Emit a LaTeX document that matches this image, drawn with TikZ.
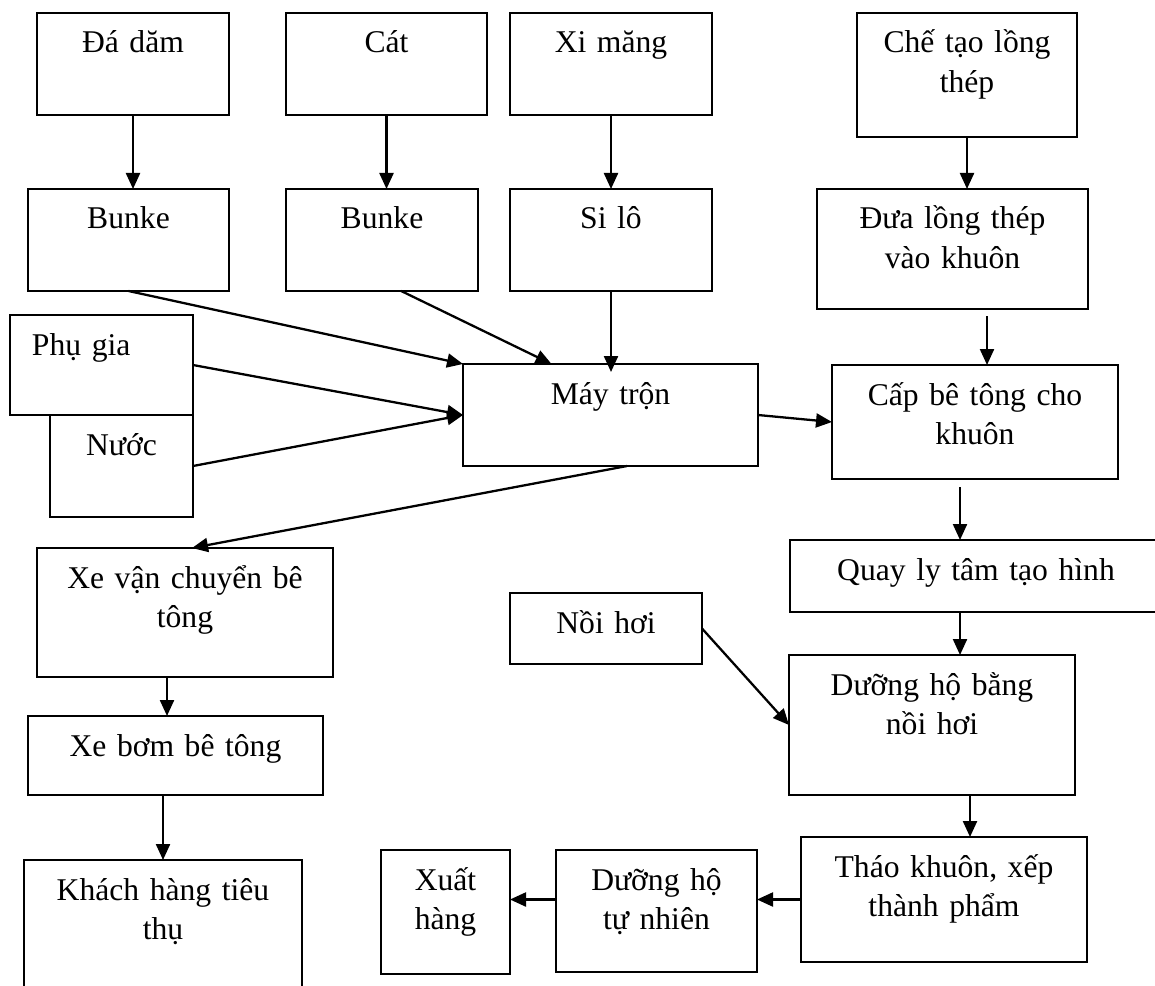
\documentclass[tikz,border=0pt]{standalone}
\usepackage{fontspec}
\setmainfont{Liberation Serif}
\usetikzlibrary{arrows.meta, calc}
\tikzset{
    hop/.style = {draw, line width = 1.05pt, anchor = north west, inner sep = 0pt, outer sep = 0pt, align = center, text height = 0.8cm, font = \fontsize{18}{22.2}\selectfont},
    muiten/.style = {-{Triangle[length = 0.32cm, width = 0.28cm]}, line width = 1.3pt}
}
\begin{document}
\begin{tikzpicture}[x = 0.2mm, y = -0.2mm]
            \useasboundingbox (0,0) rectangle (1155,986);
            \node[hop, text width = 3.84cm, text depth = 1.24cm] (dadam) at (37,13) {Đá dăm};
            \node[hop, text width = 4.02cm, text depth = 1.24cm] (cat) at (286,13) {Cát};
            \node[hop, text width = 4.04cm, text depth = 1.24cm] (ximang) at (510,13) {Xi măng};
            \node[hop, text width = 4.40cm, text depth = 1.68cm] (chetao) at (857,13) {Chế tạo lồng\\thép};
            \node[hop, text width = 4.02cm, text depth = 1.24cm] (bunke1) at (28,189) {Bunke};
            \node[hop, text width = 3.84cm, text depth = 1.24cm] (bunke2) at (286,189) {Bunke};
            \node[hop, text width = 4.04cm, text depth = 1.24cm] (silo) at (510,189) {Si lô};
            \node[hop, text width = 5.42cm, text depth = 1.60cm] (dualong) at (817,189) {Đưa lồng thép\\vào khuôn};
            \node[hop, text width = 3.66cm, text depth = 1.20cm, align = left] (phugia) at (10,315) {\hspace*{0.44cm}Phụ gia};
            \node[hop, text width = 2.86cm, text depth = 1.24cm] (nuoc) at (50,415) {Nước};
            \node[hop, text width = 5.90cm, text depth = 1.24cm] (maytron) at (463,364) {Máy trộn};
            \node[hop, text width = 5.72cm, text depth = 1.48cm] (capbt) at (832,365) {Cấp bê tông cho\\khuôn};
            \node[hop, text width = 7.44cm, text depth = 0.64cm] (quay) at (790,540) {Quay ly tâm tạo hình};
            \node[hop, text width = 3.84cm, text depth = 0.62cm] (noihoi) at (510,593) {Nồi hơi};
            \node[hop, text width = 5.92cm, text depth = 1.78cm] (xevc) at (37,548) {Xe vận chuyển bê\\tông};
            \node[hop, text width = 5.72cm, text depth = 2.00cm] (duongnh) at (789,655) {Dưỡng hộ bằng\\nồi hơi};
            \node[hop, text width = 5.90cm, text depth = 0.78cm] (xebom) at (28,716) {Xe bơm bê tông};
            \node[hop, text width = 5.56cm, text depth = 2.00cm] (khach) at (24,860) {Khách hàng tiêu\\thụ};
            \node[hop, text width = 5.72cm, text depth = 1.70cm] (thao) at (801,837) {Tháo khuôn, xếp\\thành phẩm};
            \node[hop, text width = 4.02cm, text depth = 1.64cm] (duongtn) at (556,850) {Dưỡng hộ\\tự nhiên};
            \node[hop, text width = 2.58cm, text depth = 1.68cm] (xuat) at (381,850) {Xuất\\hàng};
            \draw[muiten] (dadam.south) -- (dadam.south |- bunke1.north);
            \draw[muiten] (cat.south) -- (cat.south |- bunke2.north);
            \draw[muiten] (ximang.south) -- (silo.north);
            \draw[muiten] (chetao.south) -- (chetao.south |- dualong.north);
            \draw[muiten] (bunke1.south) -- (maytron.north west);
            \draw[muiten] ($(bunke2.south west)!0.6!(bunke2.south east)$) -- ($(maytron.north west)!0.3!(maytron.north east)$);
            \draw[muiten] (silo.south) -- ([yshift = -0.16cm]silo.south |- maytron.north);
            \draw[muiten] (phugia.east) -- (maytron.west);
            \draw[muiten] (nuoc.east) -- (maytron.west);
            \draw[muiten] ($(maytron.south west)!0.556!(maytron.south east)$) -- ([xshift = 0.14cm]xevc.north);
            \draw[muiten] (maytron.east) -- (capbt.west);
            \draw[muiten] ([xshift = 0.24cm, yshift = -0.14cm]capbt.north |- dualong.south) -- ([xshift = 0.24cm]capbt.north);
            \draw[muiten] ([xshift = -0.3cm, yshift = -0.16cm]capbt.south) -- ([xshift = -0.3cm]capbt.south |- quay.north);
            \draw[muiten] ([xshift = -0.32cm]quay.south) -- ([xshift = -0.32cm]quay.south |- duongnh.north);
            \draw[muiten] (noihoi.east) -- (duongnh.west);
            \draw[muiten] ([xshift = 0.76cm]duongnh.south) -- ([xshift = 0.76cm]duongnh.south |- thao.north);
            \draw[muiten] (thao.west) -- (thao.west -| duongtn.east);
            \draw[muiten] (duongtn.west |- thao.west) -- (xuat.east |- thao.west);
            \draw[muiten] ([xshift = -0.36cm]xevc.south) -- ([xshift = -0.36cm]xevc.south |- xebom.north);
            \draw[muiten] (khach.north |- xebom.south) -- (khach.north);
\end{tikzpicture}
\end{document}
